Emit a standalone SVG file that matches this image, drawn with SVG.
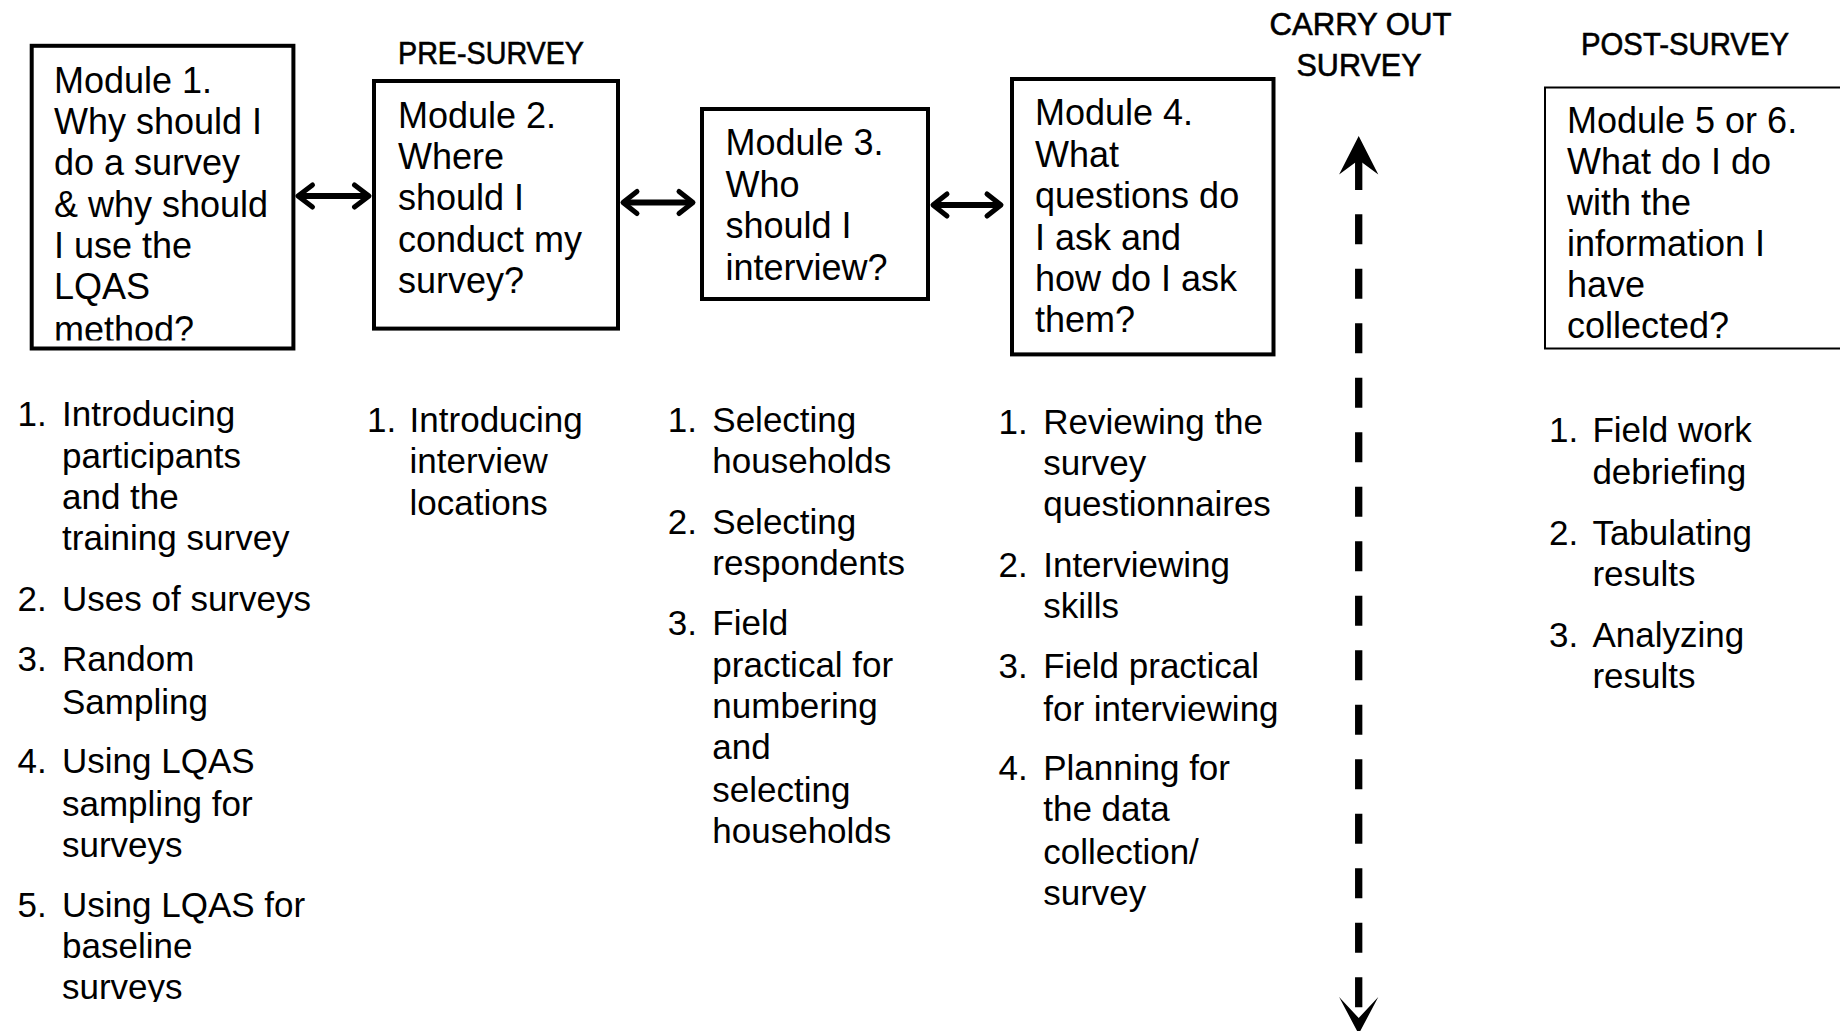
<svg xmlns="http://www.w3.org/2000/svg" width="1840" height="1031" viewBox="0 0 1840 1031">
<style>
.box{fill:#fff;stroke:#000;stroke-width:4}
.box5{fill:#fff;stroke:#000;stroke-width:2}
.bt{font-family:"Liberation Sans",Arial,sans-serif;font-size:36px;fill:#000}
.hd{font-family:"Liberation Sans",Arial,sans-serif;font-size:31px;fill:#000;stroke:#000;stroke-width:0.6}
.li{font-family:"Liberation Sans",Arial,sans-serif;font-size:35px;fill:#000}
.shaft{stroke:#000;stroke-width:6;fill:none}
.chev{stroke:#000;stroke-width:5;fill:none;stroke-linecap:round;stroke-linejoin:round}
.dash{stroke:#000;stroke-width:7.3;fill:none}
</style>
<defs>
<clipPath id="c1"><rect x="30" y="44" width="266" height="296.5"/></clipPath>
<clipPath id="cl1"><rect x="0" y="380" width="360" height="622"/></clipPath>
</defs>
<rect width="1840" height="1031" fill="#fff"/>

<g id="headers">
<text class="hd" x="398" y="63.5" textLength="186" lengthAdjust="spacingAndGlyphs">PRE-SURVEY</text>
<text class="hd" x="1360.5" y="35" text-anchor="middle" textLength="182" lengthAdjust="spacingAndGlyphs">CARRY OUT</text>
<text class="hd" x="1359" y="76" text-anchor="middle" textLength="125" lengthAdjust="spacingAndGlyphs">SURVEY</text>
<text class="hd" x="1581" y="55" textLength="208" lengthAdjust="spacingAndGlyphs">POST-SURVEY</text>
</g>

<g id="module1">
<rect class="box" x="31.7" y="45.8" width="261.7" height="302.7"/>
<g clip-path="url(#c1)">
<text class="bt" x="54" y="93">Module 1.</text>
<text class="bt" x="54" y="134">Why should I</text>
<text class="bt" x="54" y="175">do a survey</text>
<text class="bt" x="54" y="216.5">&amp; why should</text>
<text class="bt" x="54" y="257.5">I use the</text>
<text class="bt" x="54" y="299">LQAS</text>
<text class="bt" x="54" y="341.5">method?</text>
</g>
</g>

<g id="module2">
<rect class="box" x="374" y="81" width="244" height="247.6"/>
<text class="bt" x="398" y="128">Module 2.</text>
<text class="bt" x="398" y="169">Where</text>
<text class="bt" x="398" y="210">should I</text>
<text class="bt" x="398" y="251.5">conduct my</text>
<text class="bt" x="398" y="292.5">survey?</text>
</g>

<g id="module3">
<rect class="box" x="702" y="109" width="226" height="190"/>
<text class="bt" x="725.5" y="155">Module 3.</text>
<text class="bt" x="725.5" y="196.5">Who</text>
<text class="bt" x="725.5" y="238">should I</text>
<text class="bt" x="725.5" y="279.5">interview?</text>
</g>

<g id="module4">
<rect class="box" x="1012" y="79" width="261.5" height="275.4"/>
<text class="bt" x="1035" y="125">Module 4.</text>
<text class="bt" x="1035" y="166.5">What</text>
<text class="bt" x="1035" y="208">questions do</text>
<text class="bt" x="1035" y="249.5">I ask and</text>
<text class="bt" x="1035" y="290.5">how do I ask</text>
<text class="bt" x="1035" y="332">them?</text>
</g>

<g id="module5">
<rect class="box5" x="1545" y="87.5" width="310" height="261"/>
<text class="bt" x="1567" y="133">Module 5 or 6.</text>
<text class="bt" x="1567" y="174">What do I do</text>
<text class="bt" x="1567" y="215">with the</text>
<text class="bt" x="1567" y="256">information I</text>
<text class="bt" x="1567" y="297">have</text>
<text class="bt" x="1567" y="337.5">collected?</text>
</g>

<g id="connectors">
<g id="arrow-1-2">
<line class="shaft" x1="300" y1="196" x2="366" y2="196"/>
<polyline class="chev" points="312.5,185 298,196 312.5,207"/>
<polyline class="chev" points="354.5,185 369,196 354.5,207"/>
</g>
<g id="arrow-2-3">
<line class="shaft" x1="625" y1="202.5" x2="691" y2="202.5"/>
<polyline class="chev" points="637,191.5 623,202.5 637,213.5"/>
<polyline class="chev" points="679,191.5 693,202.5 679,213.5"/>
</g>
<g id="arrow-3-4">
<line class="shaft" x1="935" y1="205" x2="999" y2="205"/>
<polyline class="chev" points="947,194 933,205 947,216"/>
<polyline class="chev" points="987,194 1001,205 987,216"/>
</g>
<g id="survey-arrow">
<path d="M1358.7,136 L1378.3,174.5 L1358.7,160 L1339.1,174.5 Z" fill="#000"/>
<line class="dash" x1="1358.7" y1="158" x2="1358.7" y2="190"/>
<line class="dash" x1="1358.7" y1="214.3" x2="1358.7" y2="1012" stroke-dasharray="30 24.5"/>
<path d="M1358.7,1034 L1378.3,997 L1358.7,1018 L1339.1,997 Z" fill="#000"/>
</g>
</g>

<g id="list1" clip-path="url(#cl1)">
<text class="li" x="17.6" y="426">1.</text>
<text class="li" x="62" y="426">Introducing</text>
<text class="li" x="62" y="468">participants</text>
<text class="li" x="62" y="509.3">and the</text>
<text class="li" x="62" y="550.4">training survey</text>
<text class="li" x="17.6" y="611.4">2.</text>
<text class="li" x="62" y="611.4">Uses of surveys</text>
<text class="li" x="17.6" y="671.2">3.</text>
<text class="li" x="62" y="671.2">Random</text>
<text class="li" x="62" y="713.5">Sampling</text>
<text class="li" x="17.6" y="773.4">4.</text>
<text class="li" x="62" y="773.4">Using LQAS</text>
<text class="li" x="62" y="815.6">sampling for</text>
<text class="li" x="62" y="856.7">surveys</text>
<text class="li" x="17.6" y="916.5">5.</text>
<text class="li" x="62" y="916.5">Using LQAS for</text>
<text class="li" x="62" y="957.6">baseline</text>
<text class="li" x="62" y="998.6">surveys</text>
</g>

<g id="list2">
<text class="li" x="367" y="431.8">1.</text>
<text class="li" x="409.6" y="431.8">Introducing</text>
<text class="li" x="409.6" y="473">interview</text>
<text class="li" x="409.6" y="515.2">locations</text>
</g>

<g id="list3">
<text class="li" x="667.7" y="431.8">1.</text>
<text class="li" x="712.3" y="431.8">Selecting</text>
<text class="li" x="712.3" y="473">households</text>
<text class="li" x="667.7" y="534">2.</text>
<text class="li" x="712.3" y="534">Selecting</text>
<text class="li" x="712.3" y="575">respondents</text>
<text class="li" x="667.7" y="634.9">3.</text>
<text class="li" x="712.3" y="634.9">Field</text>
<text class="li" x="712.3" y="677">practical for</text>
<text class="li" x="712.3" y="718.2">numbering</text>
<text class="li" x="712.3" y="759.3">and</text>
<text class="li" x="712.3" y="801.5">selecting</text>
<text class="li" x="712.3" y="842.6">households</text>
</g>

<g id="list4">
<text class="li" x="998.6" y="434.2">1.</text>
<text class="li" x="1043.2" y="434.2">Reviewing the</text>
<text class="li" x="1043.2" y="475.3">survey</text>
<text class="li" x="1043.2" y="516.3">questionnaires</text>
<text class="li" x="998.6" y="577.4">2.</text>
<text class="li" x="1043.2" y="577.4">Interviewing</text>
<text class="li" x="1043.2" y="618.4">skills</text>
<text class="li" x="998.6" y="678.3">3.</text>
<text class="li" x="1043.2" y="678.3">Field practical</text>
<text class="li" x="1043.2" y="720.5">for interviewing</text>
<text class="li" x="998.6" y="780.4">4.</text>
<text class="li" x="1043.2" y="780.4">Planning for</text>
<text class="li" x="1043.2" y="821.4">the data</text>
<text class="li" x="1043.2" y="863.7">collection/</text>
<text class="li" x="1043.2" y="904.8">survey</text>
</g>

<g id="list5">
<text class="li" x="1549" y="442.4">1.</text>
<text class="li" x="1592.4" y="442.4">Field work</text>
<text class="li" x="1592.4" y="483.5">debriefing</text>
<text class="li" x="1549" y="544.5">2.</text>
<text class="li" x="1592.4" y="544.5">Tabulating</text>
<text class="li" x="1592.4" y="585.6">results</text>
<text class="li" x="1549" y="646.6">3.</text>
<text class="li" x="1592.4" y="646.6">Analyzing</text>
<text class="li" x="1592.4" y="687.7">results</text>
</g>
</svg>
